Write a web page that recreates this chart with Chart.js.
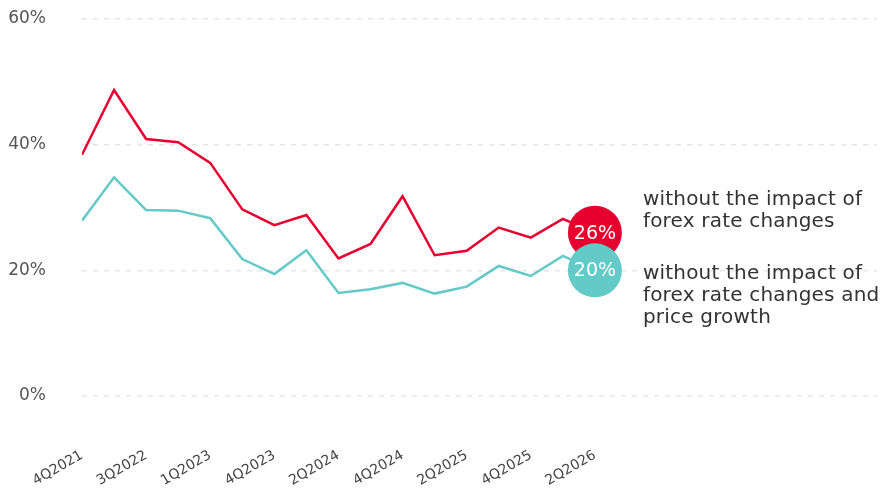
<!DOCTYPE html>
<html>
<head>
<meta charset="utf-8">
<script src="https://cdn.jsdelivr.net/npm/chart.js@4"></script>
<style>
  html, body { margin: 0; padding: 0; background: #fff; }
  #wrap { width: 881px; height: 488px; position: relative; }
</style>
</head>
<body>
<div id="wrap"><canvas id="chart"></canvas></div>
<script>
// quarter labels, only every other point carries a label
const quarters = ["4Q2021", "", "3Q2022", "", "1Q2023", "", "4Q2023", "", "2Q2024", "",
  "4Q2024", "", "2Q2025", "", "4Q2025", "", "2Q2026"];
const yTicks = [0, 20, 40, 60];

// growth without forex effect, %
const fxAdjusted = [38.4, 48.7, 40.9, 40.4, 37.1, 29.7, 27.2, 28.8, 21.9, 24.2, 31.8, 22.4, 23.1, 26.8, 25.2, 28.2, 26];
// growth without forex effect and price growth, %
const fxPriceAdjusted = [27.9, 34.8, 29.6, 29.5, 28.3, 21.8, 19.4, 23.2, 16.4, 17.0, 18.0, 16.3, 17.4, 20.7, 19.1, 22.3, 20];

const seriesNotes = [
  ["without the impact of", "forex rate changes"],
  ["without the impact of", "forex rate changes and", "price growth"]
];

const RED = "#E5002F";
const TEAL = "#63CAC7";
const FONT = "'DejaVu Sans', sans-serif";

const lastIndex = quarters.length - 1;
const toPoints = (arr) => arr.map((v, i) => ({ x: i, y: v }));
const endDot = (ctx) => (ctx.dataIndex === lastIndex ? 27 : 0);

// white value inside the end circles, notes to the right of them
const endLabels = {
  id: "endLabels",
  afterDatasetsDraw(chart) {
    const { ctx } = chart;
    ctx.save();
    chart.data.datasets.forEach((ds, di) => {
      const pt = chart.getDatasetMeta(di).data[lastIndex];
      ctx.fillStyle = "#fff";
      ctx.font = "19px " + FONT;
      ctx.letterSpacing = "0px";
      ctx.textAlign = "center";
      ctx.textBaseline = "middle";
      ctx.fillText(ds.data[lastIndex].y + "%", pt.x, pt.y + 1);

      const lines = seriesNotes[ds.noteIndex];
      ctx.fillStyle = "#333";
      ctx.font = "20px " + FONT;
      ctx.letterSpacing = "0.2px";
      ctx.textAlign = "left";
      ctx.textBaseline = "alphabetic";
      const top = ds.noteIndex === 0 ? pt.y - 28 : pt.y + 9;
      lines.forEach((line, li) => ctx.fillText(line, pt.x + 48, top + li * 22));
    });
    ctx.restore();
  }
};

new Chart(document.getElementById("chart"), {
  type: "line",
  data: {
    datasets: [
      {
        label: seriesNotes[1].join(" "),
        noteIndex: 1,
        data: toPoints(fxPriceAdjusted),
        borderColor: TEAL,
        backgroundColor: TEAL,
        borderWidth: 2.5,
        pointRadius: endDot,
        pointBorderWidth: 0,
        pointHoverRadius: endDot,
        order: 0
      },
      {
        label: seriesNotes[0].join(" "),
        noteIndex: 0,
        data: toPoints(fxAdjusted),
        borderColor: RED,
        backgroundColor: RED,
        borderWidth: 2.5,
        pointRadius: endDot,
        pointBorderWidth: 0,
        pointHoverRadius: endDot,
        order: 1
      }
    ]
  },
  options: {
    responsive: true,
    maintainAspectRatio: false,
    animation: false,
    layout: { autoPadding: false, padding: { top: 19, right: 4, bottom: 0, left: 0 } },
    plugins: { legend: { display: false }, tooltip: { enabled: false } },
    scales: {
      x: {
        type: "linear",
        min: 0,
        max: 24.8,
        grid: { display: false },
        border: { display: false },
        afterBuildTicks: (scale) => {
          scale.ticks = quarters.map((q, i) => ({ value: i })).filter((t, i) => quarters[i] !== "");
        },
        afterFit: (scale) => {
          scale.height = 92;
          scale.paddingLeft = 0;
          scale.paddingRight = 0;
        },
        ticks: {
          autoSkip: false,
          minRotation: 30,
          maxRotation: 30,
          padding: 43,
          color: "#444",
          font: { family: FONT, size: 14 },
          callback: (v) => quarters[v] ?? ""
        }
      },
      y: {
        min: 0,
        max: 60,
        afterBuildTicks: (scale) => { scale.ticks = yTicks.map((v) => ({ value: v })); },
        afterFit: (scale) => {
          scale.width = 82;
          scale.paddingTop = 0;
          scale.paddingBottom = 0;
        },
        border: { display: false, dash: [5, 6] },
        grid: { color: "#e6e6e6", lineWidth: 1.5, drawTicks: false },
        ticks: {
          padding: 36,
          color: "#555",
          font: { family: FONT, size: 17 },
          callback: (v) => v + "%"
        }
      }
    }
  },
  plugins: [endLabels]
});
</script>
</body>
</html>
